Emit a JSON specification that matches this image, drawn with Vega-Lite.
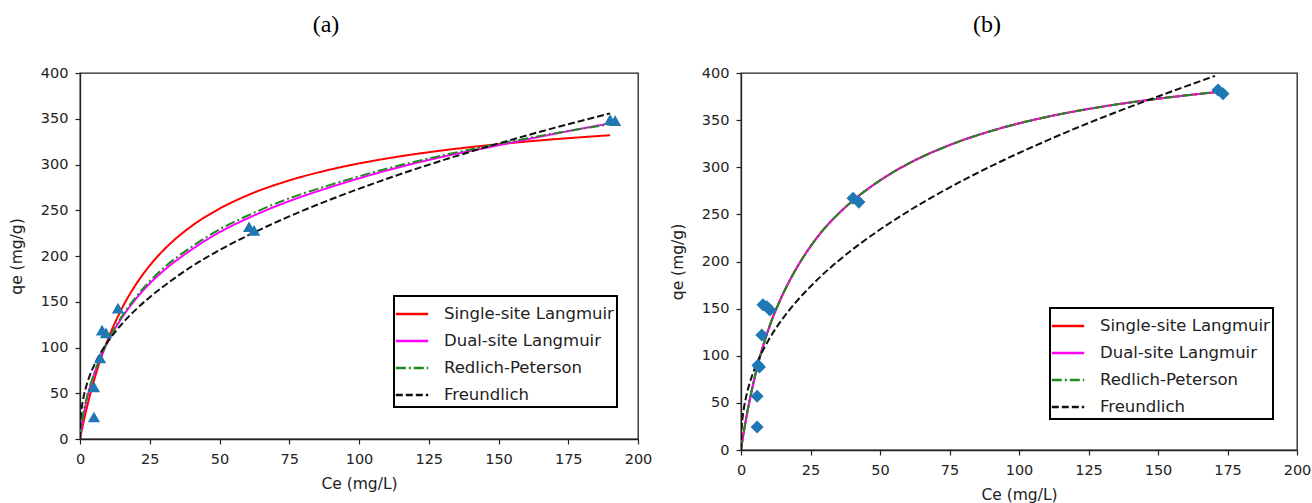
{
  "$schema": "https://vega.github.io/schema/vega-lite/v6.json",
  "padding": {"left": 8, "top": 12, "right": 5, "bottom": 0},
  "background": "white",
  "spacing": 16,
  "datasets": {
    "curvesA": [
      {"C": 0, "Single-site Langmuir": 0, "Dual-site Langmuir": 0, "Redlich-Peterson": 0, "Freundlich": 0},
      {"C": 0.1, "Single-site Langmuir": 1.5, "Dual-site Langmuir": 3, "Redlich-Peterson": 4, "Freundlich": 16.1},
      {"C": 0.25, "Single-site Langmuir": 3.8, "Dual-site Langmuir": 7, "Redlich-Peterson": 9, "Freundlich": 23.4},
      {"C": 0.5, "Single-site Langmuir": 7.5, "Dual-site Langmuir": 12, "Redlich-Peterson": 15, "Freundlich": 31.2},
      {"C": 1, "Single-site Langmuir": 14.8, "Dual-site Langmuir": 22, "Redlich-Peterson": 25, "Freundlich": 41.4},
      {"C": 2, "Single-site Langmuir": 28.4, "Dual-site Langmuir": 37, "Redlich-Peterson": 40, "Freundlich": 55.0},
      {"C": 3, "Single-site Langmuir": 41.0, "Dual-site Langmuir": 50, "Redlich-Peterson": 52, "Freundlich": 65.0},
      {"C": 5, "Single-site Langmuir": 63.7, "Dual-site Langmuir": 70, "Redlich-Peterson": 71, "Freundlich": 80.1},
      {"C": 7.5, "Single-site Langmuir": 88.1, "Dual-site Langmuir": 90, "Redlich-Peterson": 91, "Freundlich": 94.6},
      {"C": 10, "Single-site Langmuir": 108.9, "Dual-site Langmuir": 106.5, "Redlich-Peterson": 107.5, "Freundlich": 106.4},
      {"C": 15, "Single-site Langmuir": 142.6, "Dual-site Langmuir": 132.5, "Redlich-Peterson": 134, "Freundlich": 125.7},
      {"C": 20, "Single-site Langmuir": 168.7, "Dual-site Langmuir": 153, "Redlich-Peterson": 155, "Freundlich": 141.4},
      {"C": 25, "Single-site Langmuir": 189.6, "Dual-site Langmuir": 170, "Redlich-Peterson": 172.5, "Freundlich": 155.0},
      {"C": 30, "Single-site Langmuir": 206.6, "Dual-site Langmuir": 184, "Redlich-Peterson": 187, "Freundlich": 167.0},
      {"C": 40, "Single-site Langmuir": 232.7, "Dual-site Langmuir": 207, "Redlich-Peterson": 210, "Freundlich": 188.5},
      {"C": 50, "Single-site Langmuir": 251.7, "Dual-site Langmuir": 226, "Redlich-Peterson": 229, "Freundlich": 206.5},
      {"C": 60, "Single-site Langmuir": 266.3, "Dual-site Langmuir": 241, "Redlich-Peterson": 244, "Freundlich": 222.2},
      {"C": 75, "Single-site Langmuir": 282.6, "Dual-site Langmuir": 260, "Redlich-Peterson": 263, "Freundlich": 243.3},
      {"C": 90, "Single-site Langmuir": 294.7, "Dual-site Langmuir": 275.5, "Redlich-Peterson": 278, "Freundlich": 262.0},
      {"C": 110, "Single-site Langmuir": 306.6, "Dual-site Langmuir": 293.5, "Redlich-Peterson": 295.5, "Freundlich": 284.4},
      {"C": 130, "Single-site Langmuir": 315.4, "Dual-site Langmuir": 308.5, "Redlich-Peterson": 310, "Freundlich": 304.6},
      {"C": 150, "Single-site Langmuir": 322.2, "Dual-site Langmuir": 321, "Redlich-Peterson": 322.6, "Freundlich": 323.0},
      {"C": 170, "Single-site Langmuir": 327.6, "Dual-site Langmuir": 333.5, "Redlich-Peterson": 334, "Freundlich": 340.0},
      {"C": 190, "Single-site Langmuir": 332.0, "Dual-site Langmuir": 345, "Redlich-Peterson": 344, "Freundlich": 355.9}
    ],
    "pointsA": [
      {"C": 5.0, "q": 24}, {"C": 5.0, "q": 57}, {"C": 7.2, "q": 88.5}, {"C": 7.9, "q": 119},
      {"C": 9.3, "q": 116}, {"C": 13.6, "q": 143}, {"C": 60.6, "q": 232}, {"C": 62.4, "q": 228},
      {"C": 190, "q": 349}, {"C": 191.8, "q": 348}
    ],
    "curvesB": [
      {"C": 0, "Single-site Langmuir": 0, "Dual-site Langmuir": 0, "Redlich-Peterson": 0, "Freundlich": 0},
      {"C": 0.1, "Single-site Langmuir": 2, "Dual-site Langmuir": 2, "Redlich-Peterson": 2, "Freundlich": 16.2},
      {"C": 0.25, "Single-site Langmuir": 5, "Dual-site Langmuir": 5, "Redlich-Peterson": 5, "Freundlich": 24.0},
      {"C": 0.5, "Single-site Langmuir": 10, "Dual-site Langmuir": 10, "Redlich-Peterson": 10, "Freundlich": 32.3},
      {"C": 1, "Single-site Langmuir": 19, "Dual-site Langmuir": 19, "Redlich-Peterson": 19, "Freundlich": 43.5},
      {"C": 2, "Single-site Langmuir": 36, "Dual-site Langmuir": 36, "Redlich-Peterson": 36, "Freundlich": 58.6},
      {"C": 3, "Single-site Langmuir": 51, "Dual-site Langmuir": 51, "Redlich-Peterson": 51, "Freundlich": 69.8},
      {"C": 5, "Single-site Langmuir": 78, "Dual-site Langmuir": 78, "Redlich-Peterson": 78, "Freundlich": 86.9},
      {"C": 7.5, "Single-site Langmuir": 106, "Dual-site Langmuir": 106, "Redlich-Peterson": 106, "Freundlich": 103.5},
      {"C": 10, "Single-site Langmuir": 129, "Dual-site Langmuir": 129, "Redlich-Peterson": 129, "Freundlich": 117.1},
      {"C": 15, "Single-site Langmuir": 165, "Dual-site Langmuir": 165, "Redlich-Peterson": 165, "Freundlich": 139.4},
      {"C": 20, "Single-site Langmuir": 193, "Dual-site Langmuir": 193, "Redlich-Peterson": 193, "Freundlich": 157.7},
      {"C": 25, "Single-site Langmuir": 216, "Dual-site Langmuir": 216, "Redlich-Peterson": 216, "Freundlich": 173.5},
      {"C": 30, "Single-site Langmuir": 235, "Dual-site Langmuir": 235, "Redlich-Peterson": 235, "Freundlich": 187.8},
      {"C": 35, "Single-site Langmuir": 250.5, "Dual-site Langmuir": 250.5, "Redlich-Peterson": 250.5, "Freundlich": 200.6},
      {"C": 40, "Single-site Langmuir": 264, "Dual-site Langmuir": 264, "Redlich-Peterson": 264, "Freundlich": 212.5},
      {"C": 50, "Single-site Langmuir": 286, "Dual-site Langmuir": 286, "Redlich-Peterson": 286, "Freundlich": 233.9},
      {"C": 60, "Single-site Langmuir": 303.5, "Dual-site Langmuir": 303.5, "Redlich-Peterson": 303.5, "Freundlich": 253.0},
      {"C": 75, "Single-site Langmuir": 323.5, "Dual-site Langmuir": 323.5, "Redlich-Peterson": 323.5, "Freundlich": 278.5},
      {"C": 90, "Single-site Langmuir": 338.5, "Dual-site Langmuir": 338.5, "Redlich-Peterson": 338.5, "Freundlich": 301.2},
      {"C": 110, "Single-site Langmuir": 353.4, "Dual-site Langmuir": 353.4, "Redlich-Peterson": 353.4, "Freundlich": 328.3},
      {"C": 130, "Single-site Langmuir": 364.3, "Dual-site Langmuir": 364.3, "Redlich-Peterson": 364.3, "Freundlich": 352.8},
      {"C": 150, "Single-site Langmuir": 372.7, "Dual-site Langmuir": 372.7, "Redlich-Peterson": 372.7, "Freundlich": 375.1},
      {"C": 170.5, "Single-site Langmuir": 379.6, "Dual-site Langmuir": 379.6, "Redlich-Peterson": 379.6, "Freundlich": 397.0}
    ],
    "pointsB": [
      {"C": 5.8, "q": 24.4}, {"C": 5.8, "q": 57}, {"C": 6.1, "q": 90}, {"C": 6.6, "q": 88},
      {"C": 7.5, "q": 122}, {"C": 7.9, "q": 154}, {"C": 9.3, "q": 152}, {"C": 10.4, "q": 148.5},
      {"C": 40.3, "q": 267}, {"C": 42.4, "q": 263}, {"C": 171.6, "q": 382}, {"C": 173.4, "q": 378}
    ]
  },
  "hconcat": [
    {
      "width": 558,
      "height": 366,
      "title": {"text": "(a)", "dx": -33},
      "layer": [
        {
          "data": {"name": "curvesA"},
          "transform": [{"fold": ["Single-site Langmuir", "Dual-site Langmuir", "Redlich-Peterson", "Freundlich"], "as": ["series", "q"]}],
          "mark": {"type": "line", "strokeWidth": 2, "clip": true, "interpolate": "monotone"},
          "encoding": {
            "x": {"field": "C", "type": "quantitative", "scale": {"domain": [0, 200], "nice": false}, "axis": {"title": "Ce (mg/L)", "values": [0, 25, 50, 75, 100, 125, 150, 175, 200]}},
            "y": {"field": "q", "type": "quantitative", "scale": {"domain": [0, 400], "nice": false}, "axis": {"title": "qe (mg/g)", "values": [0, 50, 100, 150, 200, 250, 300, 350, 400]}},
            "color": {"field": "series", "type": "nominal", "scale": {"domain": ["Single-site Langmuir", "Dual-site Langmuir", "Redlich-Peterson", "Freundlich"], "range": ["#ff0000", "#ff00ff", "#1f8a1f", "#111111"]}, "legend": {"title": null, "orient": "none", "legendX": 314, "legendY": 223}},
            "strokeDash": {"field": "series", "type": "nominal", "scale": {"domain": ["Single-site Langmuir", "Dual-site Langmuir", "Redlich-Peterson", "Freundlich"], "range": [[1, 0], [1, 0], [10, 3, 2, 3], [7, 3]]}, "legend": {"title": null, "orient": "none", "legendX": 314, "legendY": 223}}
          }
        },
        {
          "data": {"name": "pointsA"},
          "mark": {"type": "point", "shape": "triangle-up", "filled": true, "size": 150, "opacity": 1, "color": "#1f77b4"},
          "encoding": {
            "x": {"field": "C", "type": "quantitative"},
            "y": {"field": "q", "type": "quantitative"}
          }
        }
      ]
    },
    {
      "width": 556,
      "height": 377,
      "title": {"text": "(b)", "dx": -32},
      "layer": [
        {
          "data": {"name": "curvesB"},
          "transform": [{"fold": ["Single-site Langmuir", "Dual-site Langmuir", "Redlich-Peterson", "Freundlich"], "as": ["series", "q"]}],
          "mark": {"type": "line", "strokeWidth": 2, "clip": true, "interpolate": "monotone"},
          "encoding": {
            "x": {"field": "C", "type": "quantitative", "scale": {"domain": [0, 200], "nice": false}, "axis": {"title": "Ce (mg/L)", "values": [0, 25, 50, 75, 100, 125, 150, 175, 200]}},
            "y": {"field": "q", "type": "quantitative", "scale": {"domain": [0, 400], "nice": false}, "axis": {"title": "qe (mg/g)", "values": [0, 50, 100, 150, 200, 250, 300, 350, 400]}},
            "color": {"field": "series", "type": "nominal", "scale": {"domain": ["Single-site Langmuir", "Dual-site Langmuir", "Redlich-Peterson", "Freundlich"], "range": ["#ff0000", "#ff00ff", "#1f8a1f", "#111111"]}, "legend": {"title": null, "orient": "none", "legendX": 309, "legendY": 235}},
            "strokeDash": {"field": "series", "type": "nominal", "scale": {"domain": ["Single-site Langmuir", "Dual-site Langmuir", "Redlich-Peterson", "Freundlich"], "range": [[1, 0], [1, 0], [10, 3, 2, 3], [7, 3]]}, "legend": {"title": null, "orient": "none", "legendX": 309, "legendY": 235}}
          }
        },
        {
          "data": {"name": "pointsB"},
          "mark": {"type": "point", "shape": "diamond", "filled": true, "size": 170, "opacity": 1, "color": "#1f77b4"},
          "encoding": {
            "x": {"field": "C", "type": "quantitative"},
            "y": {"field": "q", "type": "quantitative"}
          }
        }
      ]
    }
  ],
  "resolve": {"scale": {"color": "independent", "strokeDash": "independent"}},
  "config": {
    "font": "DejaVu Sans",
    "view": {"stroke": "#222222", "strokeWidth": 1.3},
    "title": {"font": "Liberation Serif", "fontSize": 24, "fontWeight": "normal", "color": "black", "offset": 28, "anchor": "middle"},
    "axis": {
      "grid": false,
      "domainColor": "#222222",
      "domainWidth": 1.3,
      "tickColor": "#222222",
      "tickSize": 5,
      "tickWidth": 1.2,
      "labelFont": "DejaVu Sans",
      "labelFontSize": 14.5,
      "labelColor": "#222222",
      "titleFont": "DejaVu Sans",
      "titleFontSize": 15.5,
      "titleFontWeight": "normal",
      "titleColor": "#222222"
    },
    "axisX": {"titlePadding": 11, "labelPadding": 8, "labelFlush": false},
    "axisY": {"titlePadding": 16, "labelPadding": 7},
    "legend": {
      "labelFont": "DejaVu Sans",
      "labelFontSize": 16.5,
      "labelLimit": 400,
      "labelColor": "#222222",
      "symbolType": "M-1.2,0H1.2",
      "symbolSize": 729,
      "symbolStrokeWidth": 2.5,
      "labelOffset": 17,
      "rowPadding": 3,
      "padding": 3,
      "strokeColor": "black",
      "strokeWidth": 2,
      "fillColor": "white",
      "cornerRadius": 0
    }
  }
}
